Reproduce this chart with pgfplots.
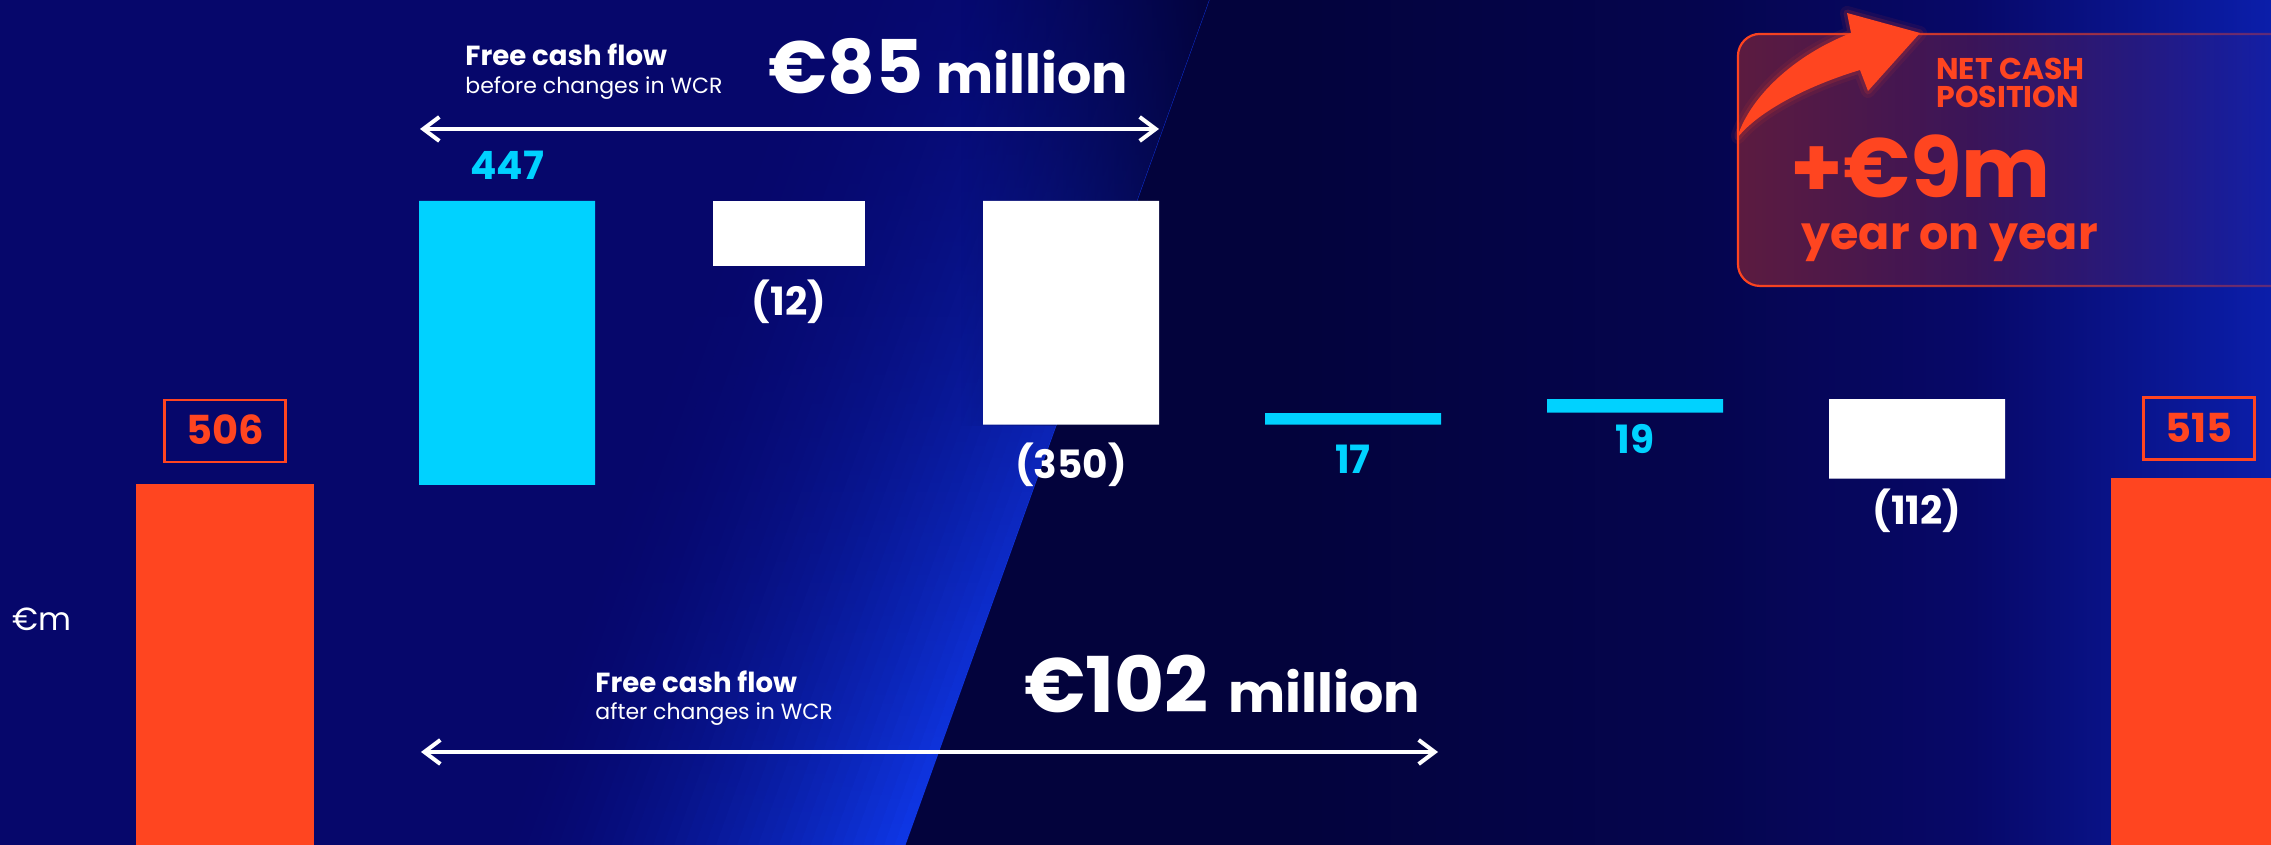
\documentclass[border=0pt]{standalone}
\usepackage{pgfplots}
\pgfplotsset{compat=1.18}
\usepackage{pgfplotstable}
\usepackage{fontspec}
\setmainfont{Poppins}
\usetikzlibrary{arrows.meta,fadings}

\definecolor{bg}{HTML}{06076B}
\definecolor{bgdark}{HTML}{03033C}
\definecolor{bgmid}{HTML}{05054E}
\definecolor{bgmidb}{HTML}{070868}
\definecolor{bgright}{HTML}{0B1EAA}
\definecolor{band}{HTML}{0F37E6}
\definecolor{orangeC}{HTML}{FF4520}
\definecolor{cyanC}{HTML}{00D2FF}

\pgfdeclarehorizontalshading{darkside}{100bp}{color(0bp)=(bgdark); color(39bp)=(bgdark);
  color(54bp)=(bgmid); color(64bp)=(bgmidb); color(75bp)=(bgright); color(100bp)=(bgright)}
\tikzfading[name=fadeR, left color=transparent!0, middle color=transparent!85, right color=transparent!100]
\tikzfading[name=fadeRsoft, left color=transparent!0, right color=transparent!75]
\tikzfading[name=fadeDown, top color=transparent!20, middle color=transparent!70, bottom color=transparent!100]
\tikzfading[name=fadeInR, left color=transparent!100, middle color=transparent!45, right color=transparent!0]

% waterfall: invisible base + visible segment (drawn heights follow the picture)
\pgfplotstableread{
x base below rise fall fallnarrow total
0 0 -80 0 0 0 506
1 506 0 447 0 0 0
2 850 0 0 0 103 0
3 601 0 0 352 0 0
4 601 0 18 0 0 0
5 620 0 21 0 0 0
6 516 0 0 125 0 0
7 0 -80 0 0 0 516
}\bars

\pgfplotstableread{
x y lab
1 1008 447
4 546 17
5 577 19
}\risetab

\pgfplotstableread{
x y lab
2 794 (12)
3 537.5 (350)
6 465 (112)
}\falltab

\pgfplotstableread{
x y lab
0 591 506
7 595 515
}\totaltab

\pgfplotsset{
  geom/.style={at={(0,0)}, anchor=south west, width=1135.5pt, height=422.5pt,
    scale only axis, xmin=-0.797872, xmax=7.255319, ymin=-60.66, ymax=1269.37,
    axis lines=none, xtick=\empty, ytick=\empty, enlargelimits=false},
}

\begin{document}
\begin{tikzpicture}
\path[use as bounding box] (0,0) rectangle (1135.5pt,422.5pt);
\clip (0,0) rectangle (1135.5pt,422.5pt);

% ---------- background ----------
\begin{scope}[shift={(0pt,422.5pt)}, x=0.5pt, y=-0.5pt]
  \fill[bg] (0,0) rectangle (2271,845);
  \shade[shading=darkside]
     (905,845) -- (1209,0) -- (2271,0) -- (2271,845) -- cycle;
  \foreach \i in {0,...,39} {
    \pgfmathsetmacro{\a}{485 + \i*10.5}
    \pgfmathsetmacro{\b}{\a + 11}
    \pgfmathsetmacro{\t}{100*((\i+1)/40)^1.6}
    \fill[band!\t!bg] (\a,845) -- (\b,845) -- (\b+304,0) -- (\a+304,0) -- cycle;
  }
  \begin{scope}
    \clip (485,845) -- (905,845) -- (1209,0) -- (789,0) -- cycle;
    \fill[bg, path fading=fadeDown] (480,0) rectangle (1215,845);
    \fill[bgdark, path fading=fadeInR] (960,0) rectangle (1215,426);
  \end{scope}
\end{scope}

% ---------- bars ----------
\begin{axis}[geom, ybar stacked, bar width=88pt, clip=true]
  \addplot[draw=none, fill=none] table[x=x, y=base] {\bars};
  \addplot[draw=orangeC, line width=0.6pt, fill=orangeC] table[x=x, y=below] {\bars};
  \addplot[draw=orangeC, line width=0.6pt, fill=orangeC] table[x=x, y=total] {\bars};
  \addplot[draw=none, fill=cyanC] table[x=x, y=rise] {\bars};
  \addplot[draw=none, fill=white] table[x=x, y=fall] {\bars};
  \addplot[draw=none, fill=white, bar width=76pt] table[x=x, y=fallnarrow] {\bars};
\end{axis}

% ---------- value labels ----------
\begin{axis}[geom, clip=false]
  \addplot[only marks, mark=none, nodes near coords, point meta=explicit symbolic,
    nodes near coords style={anchor=center, inner sep=0pt, text=cyanC,
      font=\bfseries\fontsize{19.5}{23}\selectfont, text height=13.6pt, text depth=0pt}]
    table[x=x, y=y, meta=lab] {\risetab};
  \addplot[only marks, mark=none, nodes near coords, point meta=explicit symbolic,
    nodes near coords style={anchor=center, inner sep=0pt, text=white,
      font=\bfseries\fontsize{19.5}{23}\selectfont, text height=13.6pt, text depth=0pt}]
    table[x=x, y=y, meta=lab] {\falltab};
  \addplot[only marks, mark=none, nodes near coords, point meta=explicit symbolic,
    nodes near coords style={anchor=center, inner xsep=11pt, inner ysep=8.5pt,
      text=orangeC, draw=orangeC, line width=1.3pt,
      font=\bfseries\fontsize{20}{24}\selectfont, text height=14pt, text depth=0pt}]
    table[x=x, y=y, meta=lab] {\totaltab};
\end{axis}

% ---------- annotations ----------
\begin{scope}[shift={(0pt,422.5pt)}, x=0.5pt, y=-0.5pt]
  \tikzset{t/.style={anchor=base west, inner sep=0pt, text=white}}
  \node[t, font=\bfseries\fontsize{13.8}{16}\selectfont] at (465,65.7) {Free cash flow};
  \node[t, font=\fontsize{11}{13}\selectfont] at (465,94) {before changes in WCR};
  \node[t, font=\bfseries\fontsize{37}{44}\selectfont] at (768,93.3) {€85};
  \node[t, font=\bfseries\fontsize{27}{32}\selectfont] at (936,93.3) {million};
  \draw[white, line width=2pt, {Straight Barb[length=8pt,width=12pt]}-{Straight Barb[length=8pt,width=12pt]}]
     (420,129) -- (1159,129);

  \node[t, font=\bfseries\fontsize{13.8}{16}\selectfont] at (595,692.7) {Free cash flow};
  \node[t, font=\fontsize{11}{13}\selectfont] at (595,720) {after changes in WCR};
  \node[t, font=\bfseries\fontsize{38.5}{44}\selectfont] at (1024,713) {€102};
  \node[t, font=\bfseries\fontsize{27}{32}\selectfont] at (1228,713) {million};
  \draw[white, line width=2pt, {Straight Barb[length=8pt,width=12pt]}-{Straight Barb[length=8pt,width=12pt]}]
     (421,752) -- (1438,752);

  \node[t, font=\fontsize{16}{19}\selectfont] at (12,631) {€m};

  % net cash box
  \fill[orangeC, fill opacity=0.35, path fading=fadeR, rounded corners=11pt]
     (1738,34) rectangle (2330,286);
  \draw[orangeC, line width=1.1pt, path fading=fadeRsoft, rounded corners=11pt]
     (1738,34) rectangle (2330,286);
  \def\swoosh{(1738,135) .. controls (1752,95) and (1795,55) .. (1851,33)
     -- (1847,13) -- (1920,33) -- (1868,91) -- (1860,70)
     .. controls (1810,85) and (1760,110) .. (1738,137) -- cycle}
  \draw[orangeC, line width=7pt, line join=round, opacity=0.08] \swoosh;
  \draw[orangeC, line width=3.5pt, line join=round, opacity=0.15] \swoosh;
  \fill[orangeC] \swoosh;
  \tikzset{o/.style={anchor=base west, inner sep=0pt, text=orangeC}}
  \node[o, font=\bfseries\fontsize{15}{16}\selectfont] at (1936,79.3) {NET CASH};
  \node[o, font=\bfseries\fontsize{15}{16}\selectfont] at (1936,107.3) {POSITION};
  \node[o, font=\bfseries\fontsize{42}{46}\selectfont] at (1790,198) {+€9m};
  \node[o, font=\bfseries\fontsize{23}{27}\selectfont] at (1801,250) {year on year};
\end{scope}
\end{tikzpicture}
\end{document}
